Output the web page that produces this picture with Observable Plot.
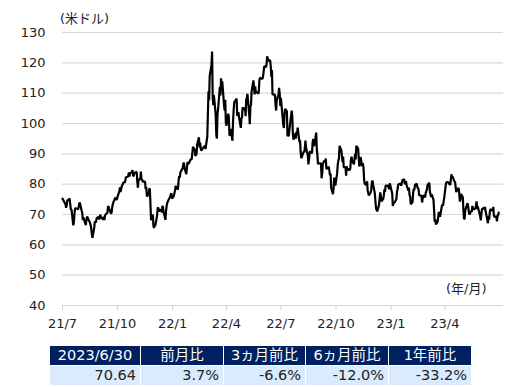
<!DOCTYPE html>
<html><head><meta charset="utf-8">
<script src="https://cdn.jsdelivr.net/npm/d3@7"></script>
<script src="https://cdn.jsdelivr.net/npm/@observablehq/plot@0.6"></script>
<style>
body{margin:0;background:#fff;font-family:"DejaVu Sans","Noto Sans CJK JP",sans-serif;}
#wrap{position:relative;width:529px;height:387px;}
#unitY{position:absolute;left:60px;top:8px;font-size:13px;color:#222;}
#unitX{position:absolute;left:446px;top:278px;font-size:13px;color:#222;}
table{position:absolute;left:49px;top:345px;border-collapse:collapse;font-size:14.5px;}
td{border:1px solid #fff;height:19px;padding:0 4px;line-height:19px;white-space:nowrap;}
tr.h td{background:#002060;color:#fff;text-align:center;}
tr.v td{background:#d9ebfc;color:#222;text-align:right;}
</style></head><body><div id="wrap"><div id="chart"></div>
<div id="unitY">(米ドル)</div><div id="unitX">(年/月)</div>
<table id="tbl"></table></div>
<script>
const dates = ["2021-07-01","2021-07-06","2021-07-13","2021-07-19","2021-07-23","2021-07-30",
"2021-08-02","2021-08-09","2021-08-13","2021-08-20","2021-08-27","2021-08-31",
"2021-09-07","2021-09-10","2021-09-17","2021-09-24","2021-09-28","2021-09-30",
"2021-10-05","2021-10-11","2021-10-15","2021-10-20","2021-10-25","2021-10-29",
"2021-11-04","2021-11-09","2021-11-15","2021-11-19","2021-11-24","2021-11-26","2021-11-30",
"2021-12-01","2021-12-03","2021-12-07","2021-12-10","2021-12-17","2021-12-20","2021-12-23","2021-12-31",
"2022-01-07","2022-01-14","2022-01-18","2022-01-21","2022-01-26","2022-01-31",
"2022-02-04","2022-02-11","2022-02-14","2022-02-16","2022-02-18","2022-02-24","2022-02-28",
"2022-03-01","2022-03-02","2022-03-03","2022-03-04","2022-03-07","2022-03-08","2022-03-09","2022-03-10","2022-03-11","2022-03-14","2022-03-15","2022-03-16","2022-03-17","2022-03-18","2022-03-21","2022-03-23","2022-03-25","2022-03-28","2022-03-31",
"2022-04-01","2022-04-06","2022-04-08","2022-04-11","2022-04-13","2022-04-18","2022-04-21","2022-04-25","2022-04-28","2022-04-29",
"2022-05-04","2022-05-06","2022-05-10","2022-05-13","2022-05-17","2022-05-20","2022-05-25","2022-05-27","2022-05-31",
"2022-06-03","2022-06-08","2022-06-10","2022-06-14","2022-06-17","2022-06-22","2022-06-24","2022-06-29","2022-06-30",
"2022-07-05","2022-07-06","2022-07-08","2022-07-12","2022-07-14","2022-07-18","2022-07-22","2022-07-26","2022-07-29",
"2022-08-02","2022-08-05","2022-08-10","2022-08-16","2022-08-19","2022-08-23","2022-08-26","2022-08-30","2022-08-31",
"2022-09-01","2022-09-06","2022-09-07","2022-09-12","2022-09-16","2022-09-20","2022-09-23","2022-09-26","2022-09-28","2022-09-30",
"2022-10-03","2022-10-07","2022-10-12","2022-10-14","2022-10-18","2022-10-21","2022-10-26","2022-10-31",
"2022-11-04","2022-11-07","2022-11-10","2022-11-15","2022-11-18","2022-11-21","2022-11-28","2022-11-30",
"2022-12-02","2022-12-06","2022-12-09","2022-12-13","2022-12-16","2022-12-21","2022-12-27","2022-12-30",
"2023-01-04","2023-01-09","2023-01-13","2023-01-18","2023-01-23","2023-01-27","2023-01-31",
"2023-02-03","2023-02-08","2023-02-14","2023-02-17","2023-02-22","2023-02-28",
"2023-03-06","2023-03-10","2023-03-15","2023-03-17","2023-03-20","2023-03-24","2023-03-29","2023-03-31",
"2023-04-03","2023-04-06","2023-04-12","2023-04-18","2023-04-21","2023-04-26","2023-04-28",
"2023-05-03","2023-05-04","2023-05-09","2023-05-12","2023-05-16","2023-05-19","2023-05-24","2023-05-26","2023-05-31",
"2023-06-02","2023-06-05","2023-06-09","2023-06-12","2023-06-16","2023-06-20","2023-06-23","2023-06-27","2023-06-30"];
const prices = [75.23,73.37,75.25,66.42,72.07,73.95,
71.26,66.48,68.44,62.32,68.74,68.50,
68.35,69.72,71.97,73.98,75.29,75.03,
78.93,80.52,82.28,83.87,83.76,83.57,
78.81,84.15,80.88,75.94,78.39,68.15,66.18,
65.57,66.26,72.05,71.67,70.86,68.23,73.79,75.21,
78.90,83.82,85.43,85.14,87.35,88.15,
92.31,93.10,95.46,93.66,91.07,92.81,95.72,
103.41,110.60,107.67,115.68,119.40,123.70,108.70,106.02,109.33,103.01,96.44,95.04,102.98,104.70,112.12,114.93,113.90,105.96,100.28,
99.27,96.23,98.26,94.29,104.25,108.21,103.79,98.54,105.36,104.69,
107.81,109.77,99.76,110.49,112.40,110.28,110.33,115.07,114.67,
118.87,122.11,120.67,118.93,109.56,106.19,107.62,109.78,105.76,
99.50,98.53,104.79,95.84,95.78,102.60,94.70,94.98,98.62,
94.42,89.01,91.93,86.53,90.77,93.74,93.06,91.64,89.55,
86.61,86.88,81.94,87.78,85.11,84.45,78.74,76.71,82.15,79.49,
83.63,92.64,87.27,85.61,82.82,85.05,87.91,86.53,
92.61,91.79,86.47,86.92,80.08,79.73,77.24,80.55,
79.98,74.25,71.02,75.39,74.29,78.29,79.53,80.26,
72.84,74.63,79.86,79.48,81.62,79.68,78.87,
73.39,78.47,79.06,76.34,73.95,77.05,
80.46,76.68,67.61,66.74,67.64,69.26,72.97,75.67,
80.42,80.70,83.26,80.86,77.87,74.30,76.78,
68.60,68.56,73.71,70.04,70.86,71.69,74.34,72.67,68.09,
71.74,72.15,70.17,67.12,71.78,71.19,69.16,67.70,70.64];
// additional intermediate readings
const dates2 = ["2021-07-07","2021-07-08","2021-07-09","2021-07-14","2021-07-15","2021-07-16","2021-07-20","2021-07-21","2021-07-22","2021-07-26","2021-07-27","2021-07-28","2021-07-29",
"2021-08-03","2021-08-04","2021-08-05","2021-08-06","2021-08-10","2021-08-11","2021-08-12","2021-08-16","2021-08-17","2021-08-18","2021-08-19","2021-08-23","2021-08-24","2021-08-25","2021-08-26","2021-08-30",
"2021-09-01","2021-09-02","2021-09-03","2021-09-08","2021-09-09","2021-09-13","2021-09-14","2021-09-15","2021-09-16","2021-09-20","2021-09-21","2021-09-22","2021-09-23","2021-09-27","2021-09-29",
"2021-10-01","2021-10-04","2021-10-06","2021-10-07","2021-10-08","2021-10-12","2021-10-13","2021-10-14","2021-10-18","2021-10-19","2021-10-21","2021-10-22","2021-10-26","2021-10-27","2021-10-28",
"2021-11-01","2021-11-02","2021-11-03","2021-11-05","2021-11-08","2021-11-10","2021-11-11","2021-11-12","2021-11-16","2021-11-17","2021-11-18","2021-11-22","2021-11-23","2021-11-29",
"2021-12-02","2021-12-06","2021-12-08","2021-12-09","2021-12-13","2021-12-14","2021-12-15","2021-12-16","2021-12-21","2021-12-22","2021-12-27","2021-12-28","2021-12-29","2021-12-30",
"2022-01-03","2022-01-04","2022-01-05","2022-01-06","2022-01-10","2022-01-11","2022-01-12","2022-01-13","2022-01-19","2022-01-20","2022-01-24","2022-01-25","2022-01-27","2022-01-28",
"2022-02-01","2022-02-02","2022-02-03","2022-02-07","2022-02-08","2022-02-09","2022-02-10","2022-02-15","2022-02-17","2022-02-22","2022-02-23","2022-02-25",
"2022-03-22","2022-03-24","2022-03-29","2022-03-30",
"2022-04-04","2022-04-05","2022-04-07","2022-04-12","2022-04-14","2022-04-19","2022-04-20","2022-04-22","2022-04-26","2022-04-27",
"2022-05-02","2022-05-03","2022-05-05","2022-05-09","2022-05-11","2022-05-12","2022-05-16","2022-05-18","2022-05-19","2022-05-23","2022-05-24","2022-05-26",
"2022-06-01","2022-06-02","2022-06-06","2022-06-07","2022-06-09","2022-06-13","2022-06-15","2022-06-16","2022-06-21","2022-06-23","2022-06-27","2022-06-28",
"2022-07-01","2022-07-07","2022-07-11","2022-07-13","2022-07-15","2022-07-19","2022-07-20","2022-07-21","2022-07-25","2022-07-27","2022-07-28",
"2022-08-01","2022-08-03","2022-08-04","2022-08-08","2022-08-09","2022-08-11","2022-08-12","2022-08-15","2022-08-17","2022-08-18","2022-08-22","2022-08-24","2022-08-25","2022-08-29",
"2022-09-02","2022-09-08","2022-09-09","2022-09-13","2022-09-14","2022-09-15","2022-09-19","2022-09-21","2022-09-22","2022-09-27","2022-09-29",
"2022-10-04","2022-10-05","2022-10-06","2022-10-10","2022-10-11","2022-10-13","2022-10-17","2022-10-19","2022-10-20","2022-10-24","2022-10-25","2022-10-27","2022-10-28",
"2022-11-01","2022-11-02","2022-11-03","2022-11-08","2022-11-09","2022-11-11","2022-11-14","2022-11-16","2022-11-17","2022-11-22","2022-11-23","2022-11-25","2022-11-29",
"2022-12-01","2022-12-05","2022-12-07","2022-12-08","2022-12-12","2022-12-14","2022-12-15","2022-12-19","2022-12-20","2022-12-22","2022-12-23","2022-12-28","2022-12-29",
"2023-01-03","2023-01-05","2023-01-06","2023-01-10","2023-01-11","2023-01-12","2023-01-17","2023-01-19","2023-01-20","2023-01-24","2023-01-25","2023-01-26","2023-01-30",
"2023-02-01","2023-02-02","2023-02-06","2023-02-07","2023-02-09","2023-02-10","2023-02-13","2023-02-15","2023-02-16","2023-02-21","2023-02-23","2023-02-24","2023-02-27",
"2023-03-01","2023-03-02","2023-03-03","2023-03-07","2023-03-08","2023-03-09","2023-03-13","2023-03-14","2023-03-16","2023-03-21","2023-03-22","2023-03-23","2023-03-27","2023-03-28","2023-03-30",
"2023-04-04","2023-04-05","2023-04-10","2023-04-11","2023-04-13","2023-04-14","2023-04-17","2023-04-19","2023-04-20","2023-04-24","2023-04-25","2023-04-27",
"2023-05-01","2023-05-02","2023-05-05","2023-05-08","2023-05-10","2023-05-11","2023-05-15","2023-05-17","2023-05-18","2023-05-22","2023-05-23","2023-05-25","2023-05-30",
"2023-06-01","2023-06-06","2023-06-07","2023-06-08","2023-06-13","2023-06-14","2023-06-15","2023-06-21","2023-06-22","2023-06-26","2023-06-28","2023-06-29"];
const prices2 = [72.20,72.94,74.56,73.13,71.65,71.81,67.42,70.30,71.91,71.91,71.65,72.39,73.62,
70.56,68.15,69.09,68.28,68.29,69.25,69.09,67.29,66.59,65.46,63.50,65.64,67.54,67.54,67.42,69.21,
68.59,69.99,69.29,69.30,68.14,70.45,70.46,72.61,72.61,70.29,70.56,72.23,73.30,75.45,74.83,
75.88,77.62,77.43,78.30,79.35,80.64,80.44,81.31,82.44,83.00,82.50,83.76,84.65,82.66,82.81,
84.05,83.91,80.86,81.27,81.93,81.34,81.59,80.79,80.76,78.36,79.01,76.75,78.50,69.95,
66.50,69.49,72.36,70.94,71.29,70.73,72.87,72.38,71.12,72.76,75.57,75.98,76.56,76.99,
76.08,76.99,77.85,79.46,78.23,81.22,82.64,82.12,86.96,86.90,83.31,85.60,86.61,86.82,
88.20,88.26,90.27,91.32,89.36,89.66,89.88,92.07,91.76,92.35,92.10,91.59,
109.27,112.34,104.24,107.82,
103.28,102.00,96.03,100.60,106.95,102.56,102.75,102.07,101.70,102.02,
105.17,102.41,108.26,103.09,105.71,106.13,114.20,109.59,112.21,110.29,109.77,114.09,
115.26,116.87,118.50,119.41,121.51,120.93,115.31,117.59,109.52,104.27,109.57,111.76,
108.43,102.73,104.09,96.30,97.59,104.22,102.26,96.35,96.70,97.26,96.42,
93.89,90.66,88.54,90.76,90.50,94.34,92.09,89.41,88.11,90.50,90.23,94.89,92.52,97.01,
86.87,83.54,86.79,87.31,88.48,85.10,85.73,82.94,83.49,78.50,81.23,
86.52,87.76,88.45,91.13,89.35,89.11,85.46,85.98,84.51,84.58,85.32,89.08,87.90,
88.37,90.00,88.17,88.91,85.83,88.96,85.87,85.59,81.64,80.95,77.94,76.28,78.20,
81.22,76.93,72.01,71.46,73.17,77.28,76.11,75.19,76.23,77.49,79.56,78.96,78.40,
76.93,73.67,73.77,75.12,77.41,78.39,80.18,80.33,81.31,80.13,80.15,81.01,77.90,
76.41,75.88,74.11,77.14,78.06,79.72,80.14,78.59,78.49,76.16,75.39,76.32,75.68,
77.69,78.16,79.68,77.58,76.66,75.72,74.80,71.33,68.35,69.33,70.90,69.96,72.81,73.20,74.37,
80.71,80.61,79.74,81.53,82.16,82.52,80.83,79.16,77.37,78.76,77.07,74.76,
75.66,71.66,71.34,73.16,72.56,70.87,71.11,72.83,71.86,71.99,72.91,71.83,69.46,
70.10,71.74,72.53,71.29,69.42,68.27,70.62,72.53,69.51,69.37,69.56,69.86];
const yTicks = [40,50,60,70,80,90,100,110,120,130];
const xTickDates = ["2021-07-01","2021-10-01","2022-01-01","2022-04-01","2022-07-01","2022-10-01","2023-01-01","2023-04-01"];
const xTickLabels = ["21/7","21/10","22/1","22/4","22/7","22/10","23/1","23/4"];
const tableHeaders = ["2023/6/30","前月比","3ヵ月前比","6ヵ月前比","1年前比"];
const tableValues = ["70.64","3.7%","-6.6%","-12.0%","-33.2%"];

const data = dates.map((d,i)=>({date:new Date(d+"T00:00:00Z"), value:prices[i]}))
  .concat(dates2.map((d,i)=>({date:new Date(d+"T00:00:00Z"), value:prices2[i]})))
  .sort((a,b)=>a.date-b.date);
const xt = xTickDates.map(d=>new Date(d+"T00:00:00Z"));
const chart = Plot.plot({
  width:529, height:340, marginLeft:62, marginRight:26, marginTop:32, marginBottom:35,
  style:{fontFamily:'"DejaVu Sans","Noto Sans CJK JP",sans-serif', fontSize:"13px", color:"#222", background:"#fff"},
  x:{type:"utc", domain:[new Date("2021-07-01T00:00:00Z"), new Date("2023-07-08T00:00:00Z")]},
  y:{domain:[40,130]},
  marks:[
    Plot.gridY(yTicks,{stroke:"#d9d9d9", strokeOpacity:1, strokeWidth:1.2}),
    Plot.axisY(yTicks,{tickSize:0, tickPadding:17, fontSize:13, label:null}),
    Plot.axisX(xt,{tickSize:5, tickPadding:8, stroke:"#d0d0d0", strokeOpacity:1, fontSize:13, label:null,
      tickFormat:(d)=>xTickLabels[xt.findIndex(t=>+t===+d)]}),
    Plot.lineY(data,{x:"date", y:"value", stroke:"#000", strokeWidth:2.2, strokeLinejoin:"miter"})
  ]
});
document.getElementById("chart").appendChild(chart);
const widths=[92,84,83,84,84];
const tbl=document.getElementById("tbl");
const r1=document.createElement("tr");r1.className="h";
tableHeaders.forEach((h,i)=>{const td=document.createElement("td");td.textContent=h;td.style.width=(widths[i]-10)+"px";r1.appendChild(td);});
const r2=document.createElement("tr");r2.className="v";
tableValues.forEach(v=>{const td=document.createElement("td");td.textContent=v;r2.appendChild(td);});
tbl.appendChild(r1);tbl.appendChild(r2);
</script></body></html>
